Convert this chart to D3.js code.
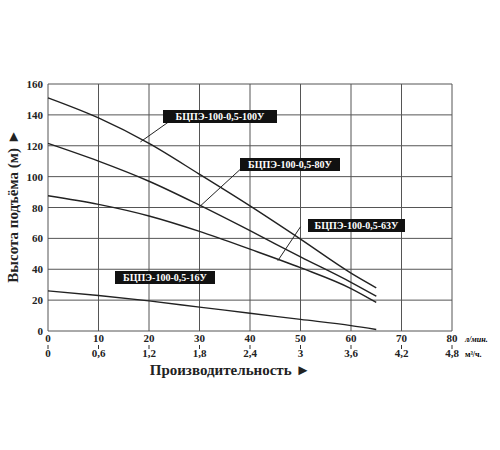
<!DOCTYPE html>
<html><head><meta charset="utf-8">
<script src="https://cdn.jsdelivr.net/npm/d3@7"></script>
<style>body{margin:0;background:#fff}text{font-family:"Liberation Serif",serif;font-weight:bold}</style>
</head><body>
<svg id="chart" width="500" height="450"></svg>
<script>
// flow values (л/мин.) where head was read
var flow = [0, 10, 20, 30, 40, 50, 60, 65];
var head100 = [151, 138, 121.5, 101.5, 81, 59.5, 37.5, 28];
var head80 = [121.5, 110, 97, 81.5, 65, 48, 31.5, 22.5];
var head63 = [87.6, 82, 74.5, 64.5, 53, 41, 27.5, 18.5];
var head16 = [26, 23, 19.5, 15.5, 11.5, 7.5, 3.5, 1];
var xTicks = [0, 10, 20, 30, 40, 50, 60, 70, 80];
var m3Ticks = ['0', '0,6', '1,2', '1,8', '2,4', '3', '3,6', '4,2', '4,8'];
var yTicks = [0, 20, 40, 60, 80, 100, 120, 140, 160];
var names = ['БЦПЭ-100-0,5-100У', 'БЦПЭ-100-0,5-80У', 'БЦПЭ-100-0,5-63У', 'БЦПЭ-100-0,5-16У'];

var svg = d3.select('#chart');
var x = d3.scaleLinear().domain([0, 80]).range([48, 452]);
var y = d3.scaleLinear().domain([0, 160]).range([331, 84]);

// grid
svg.selectAll('.vg').data(xTicks).enter().append('line')
  .attr('x1', d => x(d)).attr('x2', d => x(d)).attr('y1', y(0)).attr('y2', y(160))
  .attr('stroke', '#555').attr('stroke-width', 1);
svg.selectAll('.hg').data(yTicks).enter().append('line')
  .attr('x1', x(0)).attr('x2', x(80)).attr('y1', d => y(d)).attr('y2', d => y(d))
  .attr('stroke', '#555').attr('stroke-width', 1);

// y tick labels
svg.selectAll('.yl').data(yTicks).enter().append('text')
  .attr('x', 43).attr('y', d => y(d) + 4).attr('text-anchor', 'end')
  .attr('font-size', 11).attr('fill', '#222').text(d => d);
// x tick labels, two rows
svg.selectAll('.xl').data(xTicks).enter().append('text')
  .attr('x', d => x(d)).attr('y', 342).attr('text-anchor', 'middle')
  .attr('font-size', 11).attr('fill', '#222').text(d => d);
svg.selectAll('.xt').data(xTicks).enter().append('line')
  .attr('x1', d => x(d)).attr('x2', d => x(d)).attr('y1', 345).attr('y2', 349)
  .attr('stroke', '#333');
svg.selectAll('.ml').data(m3Ticks).enter().append('text')
  .attr('x', (d, i) => x(xTicks[i])).attr('y', 357).attr('text-anchor', 'middle')
  .attr('font-size', 11).attr('fill', '#222').text(d => d);
svg.append('text').attr('x', 465).attr('y', 342).attr('font-size', 8).attr('font-style', 'italic').text('л/мин.');
svg.append('text').attr('x', 465).attr('y', 357).attr('font-size', 8).text('м³/ч.');

// axis titles
svg.append('text').attr('x', 230).attr('y', 375).attr('text-anchor', 'middle')
  .attr('font-size', 15).attr('fill', '#222').text('Производительность ►');
svg.append('text').attr('transform', 'translate(18,206) rotate(-90)').attr('text-anchor', 'middle')
  .attr('font-size', 15).attr('fill', '#222').text('Высота подъёма (м) ►');

// curves
var line = d3.line().x((d, i) => x(flow[i])).y(d => y(d)).curve(d3.curveMonotoneX);
[head100, head80, head63, head16].forEach(function(series) {
  svg.append('path').attr('d', line(series)).attr('fill', 'none')
    .attr('stroke', '#222').attr('stroke-width', 1.4);
});

// labels with leader lines
var labels = [
  {name: names[0], bx: 163, by: 110, w: 114, lead: [[18.3, 122.5], [25.2, 138.5]]},
  {name: names[1], bx: 240, by: 158, w: 100, lead: [[30, 80.5], [39, 107.5]]},
  {name: names[2], bx: 308, by: 219, w: 97, lead: [[45.5, 45.5], [50, 67.5]]},
  {name: names[3], bx: 115, by: 271, w: 100, lead: null}
];
labels.forEach(function(l) {
  if (l.lead) {
    svg.append('line').attr('x1', x(l.lead[0][0])).attr('y1', y(l.lead[0][1]))
      .attr('x2', x(l.lead[1][0])).attr('y2', y(l.lead[1][1])).attr('stroke', '#222');
  }
  svg.append('rect').attr('x', l.bx).attr('y', l.by).attr('width', l.w).attr('height', 13).attr('fill', '#111');
  svg.append('text').attr('x', l.bx + l.w / 2).attr('y', l.by + 10).attr('text-anchor', 'middle')
    .attr('font-size', 10).attr('fill', '#fff').text(l.name);
});
</script>
</body></html>
